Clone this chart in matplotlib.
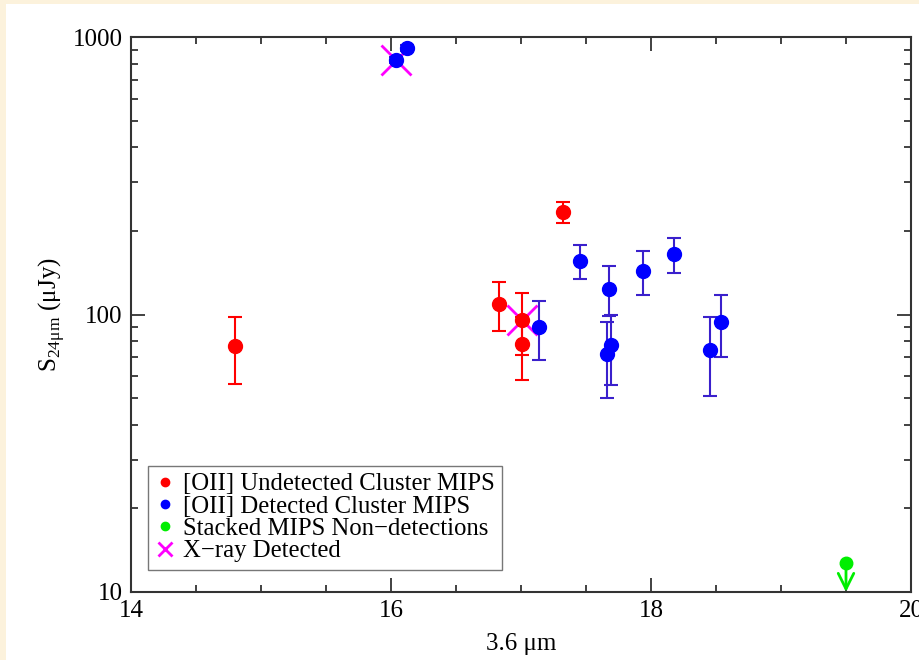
from matplotlib import pyplot as plt
import matplotlib.ticker as tck
from matplotlib.lines import Line2D
from matplotlib.patches import Rectangle
import numpy as np

plt.rcParams['font.family'] = ['Liberation Serif', 'DejaVu Serif']
plt.rcParams['mathtext.fontset'] = 'custom'
plt.rcParams['mathtext.rm'] = 'Liberation Serif'

# [OII] undetected cluster MIPS sources
red_x = [14.80, 16.83, 17.01, 17.01, 17.32]
red_y = [77, 109, 95.5, 78.3, 234]
red_err = [21, 22, 24, 20, 20.5]

# [OII] detected cluster MIPS sources
blue_x = [16.04, 16.12, 17.14, 17.45, 17.68, 17.69, 17.66, 17.94, 18.18, 18.45, 18.54]
blue_y = [826, 913, 90, 156, 124, 77.6, 72, 144, 165, 74.5, 94]
blue_err = [22, 22, 21.5, 22, 25, 22, 22, 26, 23.5, 23.5, 23.5]

# stacked non-detections (upper limit)
green_x = [19.5]
green_y = [12.7]

# X-ray detected
xray_x = [16.04, 17.01]
xray_y = [826, 95.5]

fig = plt.figure(figsize=(9.19, 6.6), dpi=100)
fig.patch.set_facecolor('#fcf2dc')
fig.patches.append(Rectangle((6/919, 0), 1, 1 - 4/660, transform=fig.transFigure,
                             facecolor='white', edgecolor='none', zorder=-10))
ax = fig.add_axes([131/919, 1 - 592/660, 780/919, 555/660])
ax.set_zorder(5)
ax.patch.set_alpha(0)

ax.plot(xray_x, xray_y, 'x', color='magenta', ms=22, mew=2, zorder=1)
ax.errorbar(red_x, red_y, yerr=red_err, fmt='o', color='red', ecolor='red',
            ms=10, elinewidth=1.5, capsize=5, capthick=1.5, zorder=3)
ax.errorbar(blue_x, blue_y, yerr=blue_err, fmt='o', color='blue', ecolor='#3a20cc',
            ms=10, elinewidth=1.5, capsize=5, capthick=1.5, zorder=3)
ax.plot(green_x, green_y, 'o', color='#00ee00', ms=9, zorder=4)
for gx, gy in zip(green_x, green_y):
    ax.annotate('', xy=(gx, 10), xytext=(gx, gy),
                arrowprops=dict(arrowstyle='->', color='#00ee00', lw=2,
                                mutation_scale=28, shrinkA=0, shrinkB=0))

ax.set_xlim(14, 20)
ax.set_yscale('log')
ax.set_ylim(10, 1000)

ax.xaxis.set_major_locator(tck.MultipleLocator(2))
ax.xaxis.set_minor_locator(tck.MultipleLocator(0.5))
ax.yaxis.set_major_locator(tck.LogLocator(base=10))
ax.yaxis.set_minor_locator(tck.LogLocator(base=10, subs=np.arange(2, 10)))
ax.yaxis.set_major_formatter(tck.FuncFormatter(lambda v, p: '%d' % round(v)))
ax.yaxis.set_minor_formatter(tck.NullFormatter())

ax.tick_params(which='both', direction='in', top=True, right=True, labelsize=18,
               width=1.3, color='#333333')
ax.tick_params(which='major', length=10, pad=6)
ax.tick_params(which='minor', length=5)
for s in ax.spines.values():
    s.set_linewidth(1.5)
    s.set_color('#333333')

ax.set_xlabel('3.6 μm', fontsize=18, labelpad=8)
ax.set_ylabel('S$_{\\mathregular{24μm}}$ (μJy)', fontsize=18, labelpad=4)

handles = [
    Line2D([], [], ls='none', marker='o', color='red', ms=6),
    Line2D([], [], ls='none', marker='o', color='blue', ms=6),
    Line2D([], [], ls='none', marker='o', color='#00ee00', ms=6),
    Line2D([], [], ls='none', marker='x', color='magenta', ms=10, mew=2),
]
labels = ['[OII] Undetected Cluster MIPS', '[OII] Detected Cluster MIPS',
          'Stacked MIPS Non\u2212detections', 'X\u2212ray Detected']
leg = ax.legend(handles, labels, loc='lower left', bbox_to_anchor=(0.022, 0.04),
                fontsize=17.8, fancybox=False, edgecolor='#777777', framealpha=1,
                handlelength=0.8, handletextpad=0.3, labelspacing=0.0,
                borderpad=0.3, borderaxespad=0)
leg.get_frame().set_linewidth(1.0)

fig.savefig('out.png', dpi=100)
